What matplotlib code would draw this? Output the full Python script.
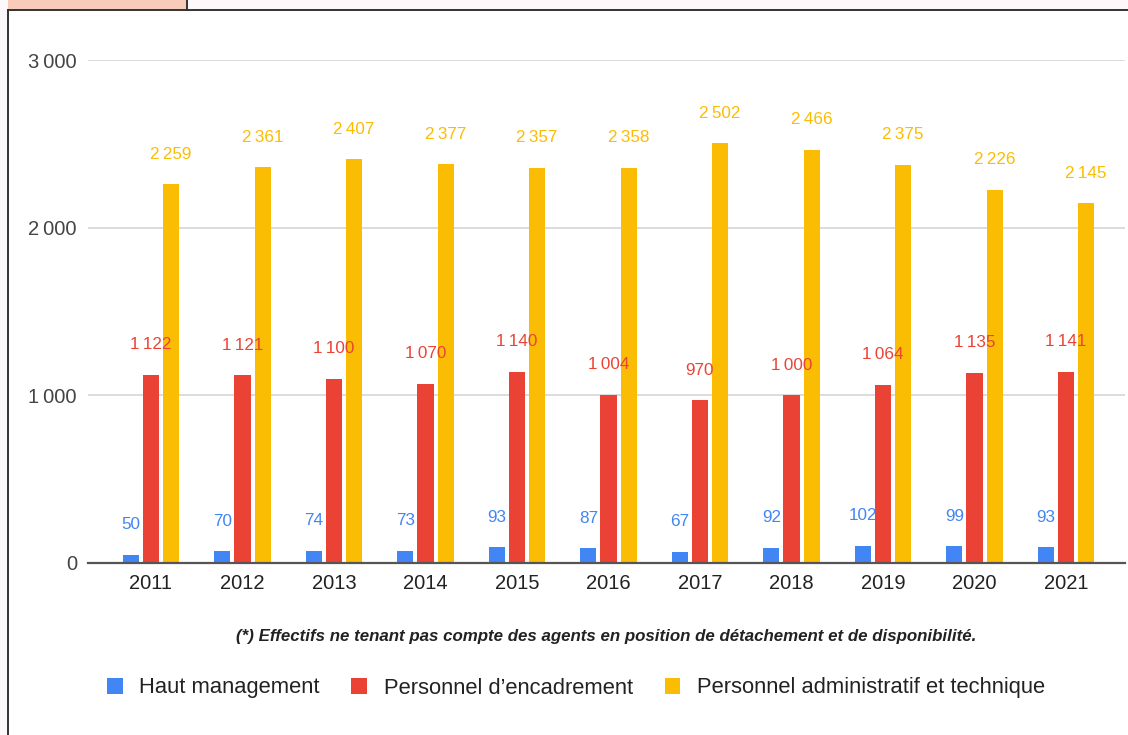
import matplotlib
matplotlib.use("Agg")
import matplotlib.pyplot as plt
from matplotlib.patches import Patch, Rectangle
from matplotlib.lines import Line2D
import numpy as np

plt.rcParams['font.family'] = ['Liberation Sans', 'DejaVu Sans']

years = ["2011", "2012", "2013", "2014", "2015", "2016", "2017", "2018", "2019", "2020", "2021"]
haut_management = [50, 70, 74, 73, 93, 87, 67, 92, 102, 99, 93]
encadrement = [1122, 1121, 1100, 1070, 1140, 1004, 970, 1000, 1064, 1135, 1141]
admin_technique = [2259, 2361, 2407, 2377, 2357, 2358, 2502, 2466, 2375, 2226, 2145]

series_names = ["Haut management", "Personnel d\u2019encadrement",
                "Personnel administratif et technique"]
series_values = [haut_management, encadrement, admin_technique]
colors = ["#4285F4", "#EA4335", "#FBBC04"]
y_ticks = [0, 1000, 2000, 3000]
footnote = ("(*) Effectifs ne tenant pas compte des agents en position "
            "de d\u00e9tachement et de disponibilit\u00e9.")

W, H = 1128, 735
fig = plt.figure(figsize=(W / 100, H / 100), dpi=100)
fig.patch.set_facecolor("white")


def fx(px):
    return px / W


def fy(py):
    return 1 - py / H


# page frame around the chart
pink = "#fdf8fa"
fig.patches.append(Rectangle((0, 0), fx(8), 1, transform=fig.transFigure,
                             facecolor=pink, edgecolor="none", zorder=0))
fig.patches.append(Rectangle((0, fy(10)), 1, 10 / H, transform=fig.transFigure,
                             facecolor=pink, edgecolor="none", zorder=0))
fig.patches.append(Rectangle((fx(8), fy(10)), fx(187) - fx(8), 10 / H,
                             transform=fig.transFigure, facecolor="#f9cbb9",
                             edgecolor="none", zorder=1))
for xs, ys in [((fx(8), fx(8)), (0, fy(10))),
               ((fx(8), 1), (fy(10), fy(10))),
               ((fx(187), fx(187)), (fy(10), 1))]:
    fig.lines.append(Line2D(xs, ys, transform=fig.transFigure,
                            color="#333333", linewidth=1.4, zorder=2))

ax_left, ax_right = 88, 1125
ax_bottom, ax_top = 563, 60
ax = fig.add_axes([fx(ax_left), fy(ax_bottom), fx(ax_right) - fx(ax_left),
                   (ax_bottom - ax_top) / H])

x = np.arange(len(years))
bar_w = 0.175
offsets = [-0.219, 0.0, 0.219]

for vals, off, col in zip(series_values, offsets, colors):
    ax.bar(x + off, vals, width=bar_w, color=col, zorder=3, edgecolor="none")
    for xi, v in zip(x + off, vals):
        label = f"{v:,}".replace(",", "\u2009")
        ax.annotate(label, (xi, v), xytext=(0, 30), textcoords="offset pixels",
                    ha="center", va="center", fontsize=12.3, color=col,
                    annotation_clip=False, zorder=4)

step = 91.5
first_center = 151
ax.set_xlim((ax_left - first_center) / step, (ax_right - first_center) / step)
ax.set_ylim(0, 3000)

ax.set_yticks(y_ticks)
ax.set_yticklabels([f"{t:,}".replace(",", "\u2009") for t in y_ticks])
ax.set_xticks(x)
ax.set_xticklabels(years)

ax.tick_params(axis="y", length=0, pad=8, labelsize=14.5, labelcolor="#444444")
ax.tick_params(axis="x", length=0, pad=8, labelsize=14.5, labelcolor="#222222")

ax.grid(axis="y", color="#d9d9d9", linewidth=1.3, zorder=0)
ax.set_axisbelow(True)
for s in ["top", "right", "left"]:
    ax.spines[s].set_visible(False)
ax.spines["bottom"].set_color("#555555")
ax.spines["bottom"].set_linewidth(1.6)
ax.spines["bottom"].set_zorder(5)

fig.text(fx(606), fy(637), footnote, ha="center", va="center",
         fontsize=12.2, style="italic", weight="bold", color="#222222")

handles = [Patch(facecolor=c, edgecolor="none", label=n)
           for c, n in zip(colors, series_names)]
fig.legend(handles=handles, loc="center", bbox_to_anchor=(fx(576), fy(688)),
           ncol=3, frameon=False, fontsize=15.8, handlelength=0.72,
           handleheight=0.72, handletextpad=0.75, columnspacing=1.45,
           labelcolor="#222222")

fig.savefig("out.png", dpi=100, facecolor=fig.get_facecolor())
